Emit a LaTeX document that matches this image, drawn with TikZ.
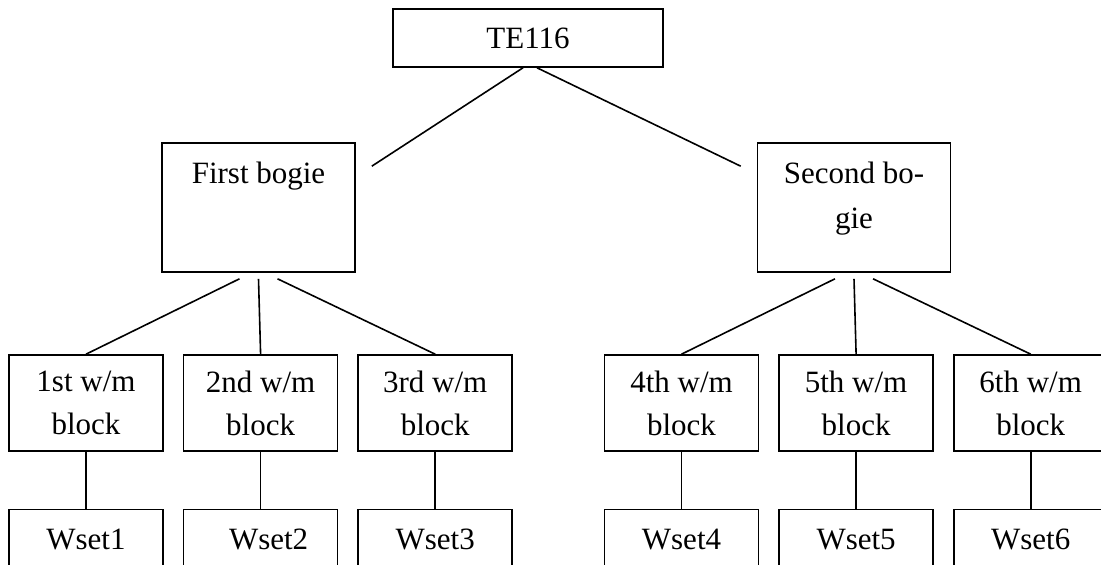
\documentclass[tikz,border=0pt]{standalone}
\usepackage{fontspec}
\setmainfont{Liberation Serif}
\usepackage{tikz}
\usetikzlibrary{positioning, calc}

\begin{document}
\begin{tikzpicture}[
  x=0.5pt, y=-0.5pt,
  box/.style={
    draw, line width=0.8pt, inner sep=0pt, align=center,
    font=\fontsize{15.5}{21.5}\selectfont
  },
  loco/.style={box, minimum width=135pt, minimum height=29pt},
  bogie/.style={box, minimum width=96.5pt, minimum height=64.5pt},
  blk/.style={box, minimum width=77pt, minimum height=48pt},
  wset/.style={box, minimum width=77pt, minimum height=29.5pt},
  lbl/.style={inner sep=0pt, align=center, anchor=north,
    font=\fontsize{15.5}{22.5}\selectfont},
  link/.style={line width=0.8pt}
]
\useasboundingbox (0,0) rectangle (1101,565);
\clip (0,0) rectangle (1101,565);

% ============ top ============
\node[loco] (top) at (528,38) {TE116};

% ============ bogies ============
\node[bogie] (bog1) at (258.5,207.5) {};
\node[lbl] (bog1t) at ($(bog1.north)+(0,19)$) {First bogie};
\node[bogie] (bog2) at (854,207.5) {};
\node[lbl] (bog2t) at ($(bog2.north)+(0,19)$) {Second bo-\\gie};

% loose ends of the top links
\coordinate (e1) at ($(bog1.north east)+(16,24)$);
\coordinate (e2) at ($(bog2.north west)+(-16,24)$);
\draw[link] ([xshift=-2.5pt]top.south) -- (e1);
\draw[link] ([xshift=4.5pt]top.south) -- (e2);

% ============ w/m blocks ============
\node[blk] (b1) at (86,403) {1st w/m\\block};
\node[blk, right=9.5pt of b1] (b2) {2nd w/m\\block};
\node[blk, right=9.5pt of b2] (b3) {3rd w/m\\block};
\node[blk] (b4) at (681.5,403) {4th w/m\\block};
\node[blk, right=9.5pt of b4] (b5) {5th w/m\\block};
\node[blk, right=9.5pt of b5] (b6) {6th w/m\\block};

% bogie -> blocks
\draw[link] ([xshift=-9.5pt,yshift=-3pt]bog1.south) -- (b1.north);
\draw[link] ([yshift=-3pt]bog1.south) -- (b2.north);
\draw[link] ([xshift=9.5pt,yshift=-3pt]bog1.south) -- (b3.north);
\draw[link] ([xshift=-9.5pt,yshift=-3pt]bog2.south) -- (b4.north);
\draw[link] ([yshift=-3pt]bog2.south) -- (b5.north);
\draw[link] ([xshift=9.5pt,yshift=-3pt]bog2.south) -- (b6.north);

% ============ wheel sets ============
\foreach \i/\txt in {1/Wset1, 2/\hspace*{8pt}Wset2, 3/Wset3, 4/Wset4, 5/Wset5, 6/Wset6}{
  \node[wset, below=28.5pt of b\i] (w\i) {\txt};
  \draw[link] (b\i.south) -- (w\i.north);
}

\end{tikzpicture}
\end{document}
